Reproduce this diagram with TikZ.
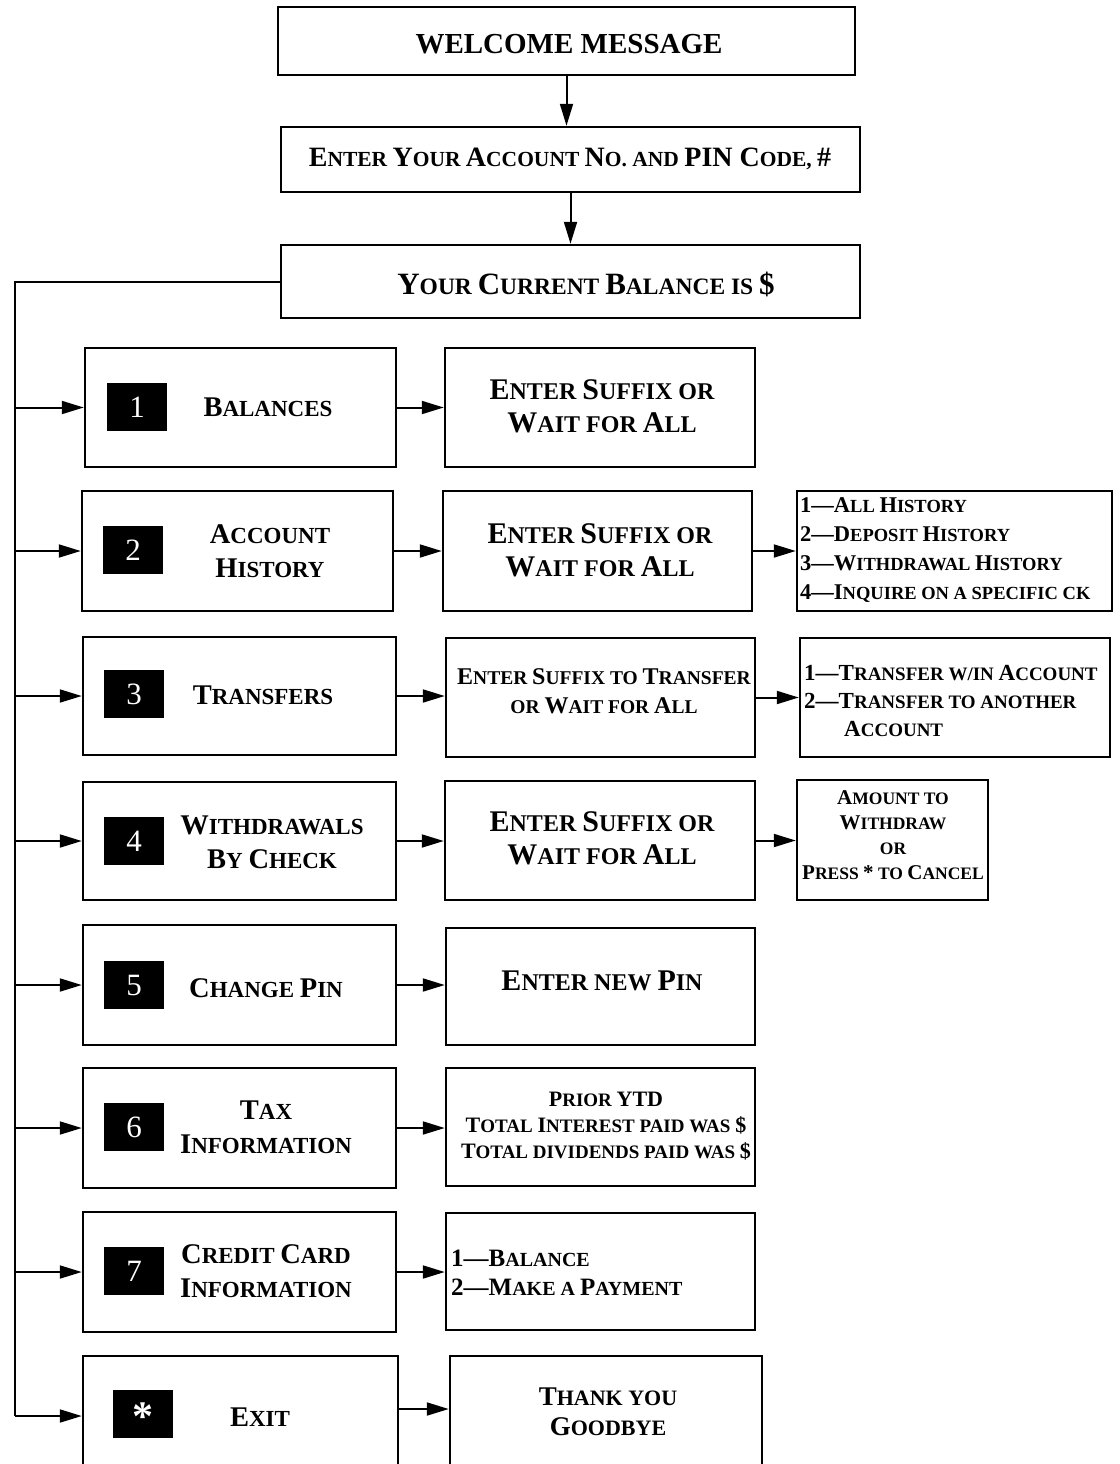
\documentclass[tikz,border=0pt]{standalone}
\usepackage{fontspec}
\setmainfont{Liberation Serif}
\usetikzlibrary{arrows.meta,calc}
\newcommand\capsz{29}
\newcommand\Cap[1]{{\fontsize{\capsz}{\capsz}\selectfont #1}}
\newcommand\fnt[3]{\fontsize{#1}{#3}\selectfont\renewcommand\capsz{#2}\bfseries}
\begin{document}
\begin{tikzpicture}[x=1pt,y=-1pt,
  box/.style={draw, line width=2.5pt, inner sep=0pt},
  numbox/.style={fill=black, text=white, minimum width=60pt, minimum height=48pt, inner sep=0pt, font=\fontsize{31}{31}\selectfont},
  conn/.style={line width=2pt, -{Triangle[length=22pt,width=13pt]}},
  rail/.style={line width=2pt},
  txt/.style={inner sep=0pt, align=center},
  ltxt/.style={inner sep=0pt, align=left, anchor=west},
  lbl/.style={txt, font=\fnt{23}{28.5}{34}},
  mid/.style={txt, font=\fnt{24}{30}{33}},
  lst/.style={ltxt, font=\fnt{18.5}{22.5}{29}}
]
\useasboundingbox (0,0) rectangle (1119,1464);
\clip (0,0) rectangle (1119,1464);

% top chain
\node[box, minimum width=577pt, minimum height=68pt] (welcome) at (566.5,41) {};
\node[txt, font=\fnt{29}{29}{29}] (welcomeT) at (569,44) {WELCOME MESSAGE};
\node[box, minimum width=579pt, minimum height=65pt] (acct) at (570.5,159.5) {};
\node[txt, font=\fnt{21.5}{28}{28}] (acctT) at (570,159) {\Cap{E}NTER \Cap{Y}OUR \Cap{A}CCOUNT \Cap{N}O. AND \Cap{PIN C}ODE, \Cap{\#}};
\node[box, minimum width=579pt, minimum height=73pt] (bal) at (570.5,281.5) {};
\node[txt, font=\fnt{23.5}{31}{31}] (balT) at (586,284) {\Cap{Y}OUR \Cap{C}URRENT \Cap{B}ALANCE IS \Cap{\$}};

\draw[conn] (welcome.south) -- (welcome.south |- acct.north);
\draw[conn] (acct.south) -- (acct.south |- bal.north);

% row boxes
\node[box, minimum width=311pt, minimum height=119pt] (r1L) at (240.5,407.5) {};
\node[box, minimum width=310pt, minimum height=119pt] (r1M) at (600,407.5) {};
\node[box, minimum width=311pt, minimum height=120pt] (r2L) at (237.5,551) {};
\node[box, minimum width=309pt, minimum height=120pt] (r2M) at (597.5,551) {};
\node[box, minimum width=315pt, minimum height=120pt] (r2R) at (954.5,551) {};
\node[box, minimum width=313pt, minimum height=118pt] (r3L) at (239.5,696) {};
\node[box, minimum width=309pt, minimum height=119pt] (r3M) at (600.5,697.5) {};
\node[box, minimum width=310pt, minimum height=119pt] (r3R) at (955,697.5) {};
\node[box, minimum width=313pt, minimum height=118pt] (r4L) at (239.5,841) {};
\node[box, minimum width=310pt, minimum height=119pt] (r4M) at (600,840.5) {};
\node[box, minimum width=191pt, minimum height=120pt] (r4R) at (892.5,840) {};
\node[box, minimum width=313pt, minimum height=120pt] (r5L) at (239.5,985) {};
\node[box, minimum width=309pt, minimum height=117pt] (r5M) at (600.5,986.5) {};
\node[box, minimum width=313pt, minimum height=120pt] (r6L) at (239.5,1128) {};
\node[box, minimum width=309pt, minimum height=118pt] (r6M) at (600.5,1127) {};
\node[box, minimum width=313pt, minimum height=120pt] (r7L) at (239.5,1272) {};
\node[box, minimum width=309pt, minimum height=117pt] (r7M) at (600.5,1271.5) {};
\node[box, minimum width=315pt, minimum height=120pt] (r8L) at (240.5,1416) {};
\node[box, minimum width=312pt, minimum height=120pt] (r8M) at (606,1416) {};

% number squares
\node[numbox] (n1) at (137,407) {1};
\node[numbox] (n2) at (133,550) {2};
\node[numbox] (n3) at (134,694) {3};
\node[numbox] (n4) at (134,841) {4};
\node[numbox] (n5) at (134,985) {5};
\node[numbox] (n6) at (134,1127) {6};
\node[numbox] (n7) at (134,1271) {7};
\node[numbox, font=\fontsize{42}{42}\selectfont\bfseries] (n8) at (143,1414) {};
\node[inner sep=0pt, text=white, font=\fontsize{42}{42}\selectfont\bfseries] (n8T) at (143,1417) {*};

% left labels
\node[lbl] (t1L) at (268,407) {\Cap{B}ALANCES};
\node[lbl] (t2L) at (270,551) {\Cap{A}CCOUNT\\\Cap{H}ISTORY};
\node[lbl] (t3L) at (263,695) {\Cap{T}RANSFERS};
\node[lbl] (t4L) at (272,842) {\Cap{W}ITHDRAWALS\\\Cap{B}Y \Cap{C}HECK};
\node[lbl] (t5L) at (266,988) {\Cap{C}HANGE \Cap{P}IN};
\node[lbl] (t6L) at (266,1127) {\Cap{T}AX\\\Cap{I}NFORMATION};
\node[lbl] (t7L) at (266,1271) {\Cap{C}REDIT \Cap{C}ARD\\\Cap{I}NFORMATION};
\node[lbl] (t8L) at (260,1417) {\Cap{E}XIT};

% middle texts
\node[mid] (t1M) at (602,406) {\Cap{E}NTER \Cap{S}UFFIX OR\\\Cap{W}AIT FOR \Cap{A}LL};
\node[mid] (t2M) at (600,550) {\Cap{E}NTER \Cap{S}UFFIX OR\\\Cap{W}AIT FOR \Cap{A}LL};
\node[txt, font=\fnt{19.5}{24}{29}] (t3M) at (604,691) {\Cap{E}NTER \Cap{S}UFFIX TO \Cap{T}RANSFER\\OR \Cap{W}AIT FOR \Cap{A}LL};
\node[mid] (t4M) at (602,838) {\Cap{E}NTER \Cap{S}UFFIX OR\\\Cap{W}AIT FOR \Cap{A}LL};
\node[mid] (t5M) at (602,981) {\Cap{E}NTER NEW \Cap{P}IN};
\node[txt, font=\fnt{19}{22}{26}] (t6M) at (606,1126) {\Cap{P}RIOR \Cap{YTD}\\\Cap{T}OTAL \Cap{I}NTEREST PAID WAS \Cap{\$}\\\Cap{T}OTAL DIVIDENDS PAID WAS \Cap{\$}};
\node[ltxt, font=\fnt{20}{25}{29}] (t7M) at (451,1273) {\Cap{1—}\Cap{B}ALANCE\\\Cap{2—}\Cap{M}AKE A \Cap{P}AYMENT};
\node[txt, font=\fnt{22}{27}{30}] (t8M) at (608,1412) {\Cap{T}HANK YOU\\\Cap{G}OODBYE};

% right texts
\node[lst] (t2R) at (800,550) {\Cap{1—}\Cap{A}LL \Cap{H}ISTORY\\\Cap{2—}\Cap{D}EPOSIT \Cap{H}ISTORY\\\Cap{3—}\Cap{W}ITHDRAWAL \Cap{H}ISTORY\\\Cap{4—}\Cap{I}NQUIRE ON A SPECIFIC CK};
\node[ltxt, font=\fnt{19}{23}{28}] (t3R) at (804,701) {\Cap{1—}\Cap{T}RANSFER W/IN \Cap{A}CCOUNT\\\Cap{2—}\Cap{T}RANSFER TO ANOTHER\\\hspace*{40pt}\Cap{A}CCOUNT};
\node[txt, font=\fnt{17.5}{21}{25}] (t4R) at (893,835) {\Cap{A}MOUNT TO\\\Cap{W}ITHDRAW\\OR\\\Cap{P}RESS \Cap{*} TO \Cap{C}ANCEL};

% rail
\coordinate (railtop) at (15,285);
\draw[rail] (bal.west) -| (railtop |- r8L.west);
\foreach \r in {r1L,r2L,r3L,r4L,r5L,r6L,r7L,r8L}
  \draw[conn] (railtop |- \r.west) -- (\r.west);

% row connectors
\draw[conn] (r1L.east) -- (r1L.east -| r1M.west);
\draw[conn] (r2L.east) -- (r2L.east -| r2M.west);
\draw[conn] (r2M.east) -- (r2M.east -| r2R.west);
\draw[conn] (r3L.east) -- (r3L.east -| r3M.west);
\draw[conn] (r3M.east) -- (r3M.east -| r3R.west);
\draw[conn] (r4L.east) -- (r4L.east -| r4M.west);
\draw[conn] (r4M.east) -- (r4M.east -| r4R.west);
\draw[conn] (r5L.east) -- (r5L.east -| r5M.west);
\draw[conn] (r6L.east) -- (r6L.east -| r6M.west);
\draw[conn] (r7L.east) -- (r7L.east -| r7M.west);
\draw[conn] ($(r8L.east)+(0,-7)$) -- ($(r8L.east -| r8M.west)+(0,-7)$);
\end{tikzpicture}
\end{document}
